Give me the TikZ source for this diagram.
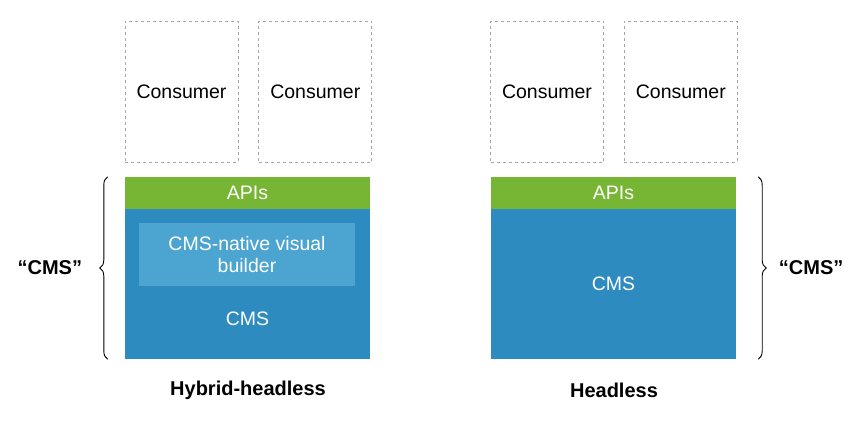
\documentclass[tikz,border=0pt]{standalone}
\usepackage{fontspec}
\setmainfont{Liberation Sans}
\usetikzlibrary{positioning,decorations.pathreplacing}
\definecolor{apigreen}{RGB}{118,182,52}
\definecolor{cmsblue}{RGB}{46,139,192}
\definecolor{builderblue}{RGB}{76,164,209}

\begin{document}
\begin{tikzpicture}[x=1pt,y=-1pt,node distance=20pt,
	consumer/.style={draw=gray!70,dashed,line width=0.8pt,minimum width=113pt,minimum height=141pt,inner sep=0pt,font=\fontsize{19.5}{22}\selectfont},
	api/.style={fill=apigreen,minimum width=245pt,minimum height=32pt,inner sep=0pt,text=white,font=\fontsize{19.5}{22}\selectfont},
	cms/.style={fill=cmsblue,minimum width=245pt,minimum height=150pt,inner sep=0pt,text=white,font=\fontsize{19.5}{22}\selectfont},
	builder/.style={fill=builderblue,minimum width=216pt,minimum height=63pt,inner sep=0pt,align=center,text=white,font=\fontsize{19.5}{22}\selectfont},
	plain/.style={text=white,font=\fontsize{19.5}{22}\selectfont},
	caption/.style={font=\fontsize{20}{24}\selectfont\bfseries},
	curly/.style={decorate,decoration={brace,amplitude=8pt},line width=0.9pt}]
	
	\useasboundingbox (0,0) rectangle (868,431);
	
	% hybrid-headless
	\node[consumer] (c1) at (181.5,91.5) {Consumer};
	\node[consumer] (c2) [right=of c1] {Consumer};
	\node[api] (apiL) at (247.5,193) {APIs};
	\node[cms] (cmsL) at (247.5,284) {};
	\node[builder] (vb) at (247,254.5) {CMS-native visual\\builder};
	\node[plain] (cmsLtxt) at (247.5,319) {CMS};
	\node[caption] (hh) at (248,390) {Hybrid-headless};
	
	% headless
	\node[consumer] (c3) at (547,91.5) {Consumer};
	\node[consumer] (c4) [right=of c3] {Consumer};
	\node[api] (apiR) at (613.5,193) {APIs};
	\node[cms] (cmsR) at (613.5,284) {CMS};
	\node[caption] (hl) at (614,390) {Headless};
	
	% braces
	\draw[curly] ([xshift=-17pt]cmsL.south west) -- ([xshift=-17pt]apiL.north west) node[midway,left=22pt,caption] (quoteL) {“CMS”};
	\draw[curly] ([xshift=22pt]apiR.north east) -- ([xshift=22pt]cmsR.south east) node[midway,right=17pt,caption] (quoteR) {“CMS”};
\end{tikzpicture}
\end{document}
